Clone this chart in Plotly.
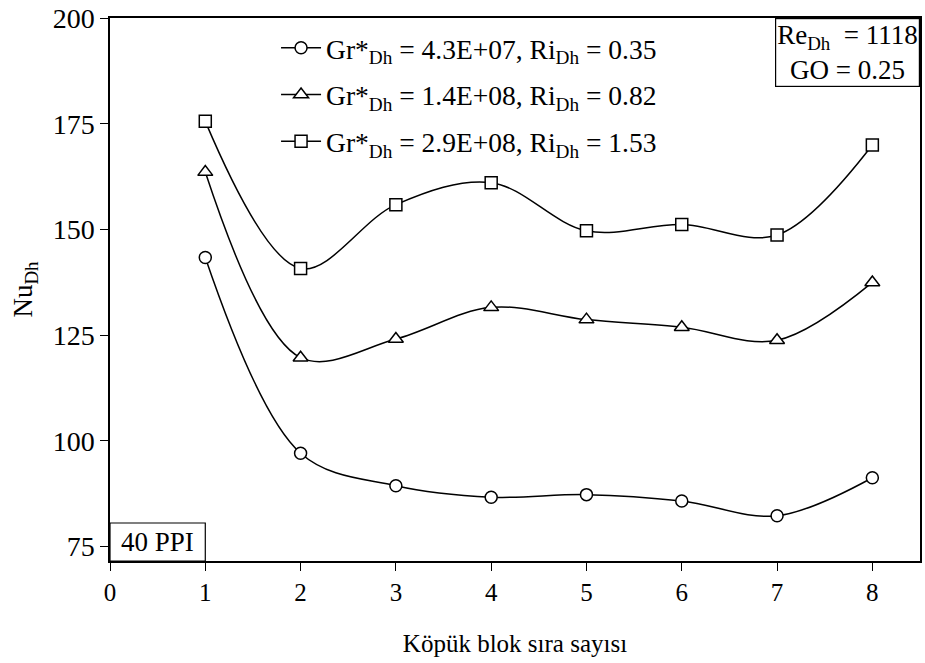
import plotly.graph_objects as go

x_rows = [1, 2, 3, 4, 5, 6, 7, 8]
nu_ri035 = [143.4, 97.1, 89.4, 86.7, 87.3, 85.8, 82.3, 91.3]
nu_ri082 = [163.6, 119.7, 124.1, 131.6, 128.7, 126.9, 123.8, 137.5]
nu_ri153 = [175.6, 140.8, 155.9, 161.1, 149.7, 151.2, 148.7, 170.0]
names = [
    "Gr*<sub>Dh</sub> = 4.3E+07, Ri<sub>Dh</sub> = 0.35",
    "Gr*<sub>Dh</sub> = 1.4E+08, Ri<sub>Dh</sub> = 0.82",
    "Gr*<sub>Dh</sub> = 2.9E+08, Ri<sub>Dh</sub> = 1.53",
]
symbols = ["circle", "triangle-up", "square"]
sizes = [12, 13, 12]
series = [nu_ri035, nu_ri082, nu_ri153]
x_ticks = [0, 1, 2, 3, 4, 5, 6, 7, 8]
y_ticks = [75, 100, 125, 150, 175, 200]

FONT = "Liberation Serif, Times New Roman, serif"

fig = go.Figure()
for i, (ys, nm, sym, sz) in enumerate(zip(series, names, symbols, sizes)):
    fig.add_trace(go.Scatter(
        x=x_rows, y=ys, name=nm, mode="lines+markers",
        line=dict(color="black", width=1.5, shape="spline", smoothing=1.0),
        marker=dict(symbol=sym, size=sz, color="white",
                    line=dict(color="black", width=1.5)),
        legendgroup=f"g{i}",
    ))

fig.update_layout(
    width=925, height=663,
    margin=dict(l=110, r=3, t=15, b=102),
    paper_bgcolor="white", plot_bgcolor="white",
    font=dict(family=FONT, size=24, color="black"),
    showlegend=True,
    legend=dict(x=0.205, y=0.99, xanchor="left", yanchor="top",
                bgcolor="rgba(0,0,0,0)", font=dict(size=27.5, family=FONT),
                tracegroupgap=8, itemwidth=40),
    xaxis=dict(range=[0, 8.5], tickvals=x_ticks, ticks="outside", ticklen=8,
               tickwidth=1.2, tickcolor="black", showline=True, linecolor="black",
               linewidth=1.5, mirror=True, showgrid=False, zeroline=False,
               tickfont=dict(size=25, family=FONT),
               title=dict(text="Köpük blok sıra sayısı", font=dict(size=25, family=FONT),
                          standoff=30)),
    yaxis=dict(range=[71.6, 200.05], tickvals=y_ticks, ticks="outside", ticklen=8,
               tickwidth=1.2, tickcolor="black", showline=True, linecolor="black",
               linewidth=1.5, mirror=True, showgrid=False, zeroline=False,
               ticklabeloverflow="allow",
               tickfont=dict(size=28, family=FONT),
               title=dict(text="Nu<sub>Dh</sub>", font=dict(size=27, family=FONT),
                          standoff=12)),
)

fig.add_annotation(
    xref="paper", yref="paper", x=1.0, y=1.0, xanchor="right", yanchor="top",
    text="Re<sub>Dh</sub>  = 1118<br>GO = 0.25", showarrow=False, align="center",
    font=dict(size=27, family=FONT), bordercolor="black", borderwidth=1.2,
    borderpad=1, bgcolor="white",
)
# "40 PPI" label box spanning x = 0..1
fig.add_shape(type="rect", xref="x", yref="paper", x0=0, x1=1, y0=0, y1=0.07,
              line=dict(color="black", width=1.2), fillcolor="white", layer="above")
fig.add_annotation(
    xref="x", yref="paper", x=0.5, y=0.035, xanchor="center", yanchor="middle",
    text="40 PPI", showarrow=False, font=dict(size=27, family=FONT),
)

fig.write_html("out.html")
